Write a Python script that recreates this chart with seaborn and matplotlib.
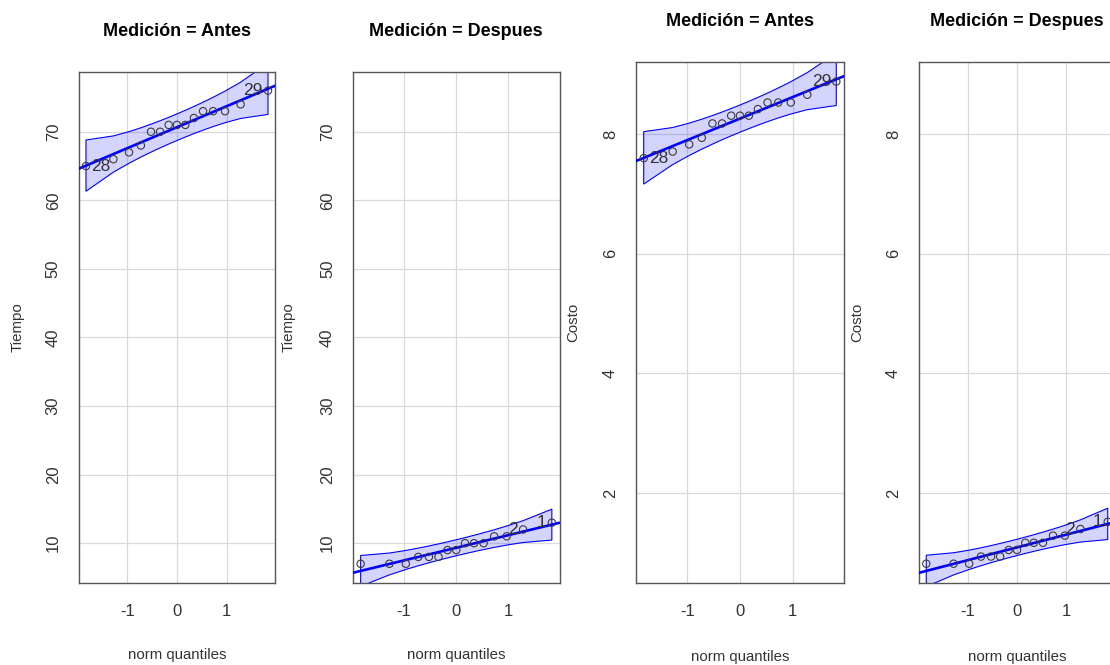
import matplotlib
matplotlib.use("Agg")
import matplotlib.pyplot as plt
import numpy as np
import pandas as pd
import seaborn as sns
from statistics import NormalDist

# values (sorted, 15 obs per group)
tiempo_antes = [65, 66, 67, 68, 70, 70, 71, 71, 71, 72, 73, 73, 73, 74, 76]
tiempo_despues = [7, 7, 7, 8, 8, 8, 9, 9, 10, 10, 10, 11, 11, 12, 13]
costo_antes = [7.60, 7.71, 7.83, 7.94, 8.18, 8.18, 8.31, 8.31, 8.31, 8.42, 8.53, 8.53, 8.53, 8.66, 8.88]
costo_despues = [0.82, 0.82, 0.82, 0.94, 0.94, 0.94, 1.05, 1.05, 1.17, 1.17, 1.17, 1.29, 1.29, 1.40, 1.52]

# labelled observations (id, rank in the sorted group)
antes_ids = ["28", "29"]
antes_rank = [0, 14]
despues_ids = ["2", "1"]
despues_rank = [13, 14]

tiempo_ticks = [10, 20, 30, 40, 50, 60, 70]
costo_ticks = [2, 4, 6, 8]
x_ticks = [-1, 0, 1]

sns.set_style("white")
plt.rcParams['font.family'] = ['Liberation Sans', 'DejaVu Sans']
plt.rcParams['axes.unicode_minus'] = False

W, H = 1110, 665
fig = plt.figure(figsize=(W / 100, H / 100), dpi=100)

BOX = "#555555"
TXT = "#333333"
nd = NormalDist()


def px_axes(left, right, top, bottom):
    return fig.add_axes([left / W, 1 - bottom / H, (right - left) / W, (bottom - top) / H])


def qq_panel(ax, values, ids, ranks, ylim, yticks, ylabel):
    y = np.array(values, dtype=float)
    n = len(y)
    P = (np.arange(1, n + 1) - 0.5) / n
    z = np.array([nd.inv_cdf(p) for p in P])
    xpad = (z[-1] - z[0]) * 0.04
    xlim = (z[0] - xpad, z[-1] + xpad)

    # reference line + pointwise 95% envelope (as car::qqPlot)
    slope, icpt = np.polyfit(z, y, 1)
    fit = icpt + slope * z
    dens = np.array([nd.pdf(v) for v in z])
    se = slope / dens * np.sqrt(P * (1 - P) / n)
    upper = fit + 1.96 * se
    lower = fit - 1.96 * se

    ax.fill(np.r_[z, z[::-1]], np.r_[upper, lower[::-1]],
            facecolor=(0, 0, 1, 0.17), edgecolor="blue", lw=0.8, zorder=2)
    xs = np.array(xlim)
    sns.lineplot(x=xs, y=icpt + slope * xs, ax=ax, color="blue", lw=1.9, zorder=3)
    df = pd.DataFrame({"q": z, "v": y})
    sns.scatterplot(data=df, x="q", y="v", ax=ax, marker="o", s=28,
                    facecolor="none", edgecolor="#3a3a3a", linewidth=0.8, zorder=4)
    for lab, r in zip(ids, ranks):
        right_side = z[r] > 0
        ax.annotate(lab, (z[r], y[r]), xytext=(-3.8 if right_side else 3.6, 0),
                    textcoords="offset points", ha="right" if right_side else "left",
                    va="center", fontsize=12.5, color=TXT, zorder=5)

    ax.set_xlim(*xlim)
    ax.set_ylim(*ylim)
    ax.set_xticks(x_ticks)
    ax.set_yticks(yticks)
    ax.grid(True, color="#dadada", lw=0.9, zorder=0)
    ax.set_axisbelow(True)
    for sp in ax.spines.values():
        sp.set_visible(True)
        sp.set_color(BOX)
        sp.set_linewidth(1.0)
    ax.tick_params(axis="both", direction="out", length=6, width=1, color=BOX,
                   labelcolor=TXT, labelsize=12)
    ax.tick_params(axis="x", pad=9)
    ax.tick_params(axis="y", pad=7, labelrotation=90)
    for lbl in ax.get_yticklabels():
        lbl.set_va("center")

    ax.set_xlabel("norm quantiles", fontsize=10.8, color=TXT)
    ax.set_ylabel(ylabel, fontsize=10.8, color=TXT)
    ax.xaxis.label.set_va("center")
    ax.yaxis.label.set_va("center")


def padded(a, b):
    lo = min(min(a), min(b))
    hi = max(max(a), max(b))
    pad = (hi - lo) * 0.04
    return lo - pad, hi + pad


tiempo_lim = padded(tiempo_antes, tiempo_despues)
costo_lim = padded(costo_antes, costo_despues)

panels = [
    (tiempo_antes, antes_ids, antes_rank, tiempo_lim, tiempo_ticks, "Tiempo", "Medición = Antes",
     (78.7, 275.3, 71.7, 582.7), 60.7, 72.3, 40.2),
    (tiempo_despues, despues_ids, despues_rank, tiempo_lim, tiempo_ticks, "Tiempo", "Medición = Despues",
     (353, 559.5, 71.7, 582.7), 64, 72.3, 40.2),
    (costo_antes, antes_ids, antes_rank, costo_lim, costo_ticks, "Costo", "Medición = Antes",
     (636, 844, 62.3, 583), 63, 73.7, 41.3),
    (costo_despues, despues_ids, despues_rank, costo_lim, costo_ticks, "Costo", "Medición = Despues",
     (919, 1115, 62.3, 583), 62, 73.7, 41.3),
]

for vals, ids, ranks, ylim, yt, ylab, title, box, ylab_off, xlab_off, title_off in panels:
    left, right, top, bottom = box
    wpx, hpx = right - left, bottom - top
    ax = px_axes(*box)
    qq_panel(ax, vals, ids, ranks, ylim, yt, ylab)
    ax.yaxis.set_label_coords(-ylab_off / wpx, 0.5)
    ax.xaxis.set_label_coords(0.5, -xlab_off / hpx)
    ax.text(0.5, 1 + title_off / hpx, title, transform=ax.transAxes, ha="center",
            va="center", fontsize=13, fontweight="bold", color="black")

fig.savefig("out.png", dpi=100, facecolor="white")
